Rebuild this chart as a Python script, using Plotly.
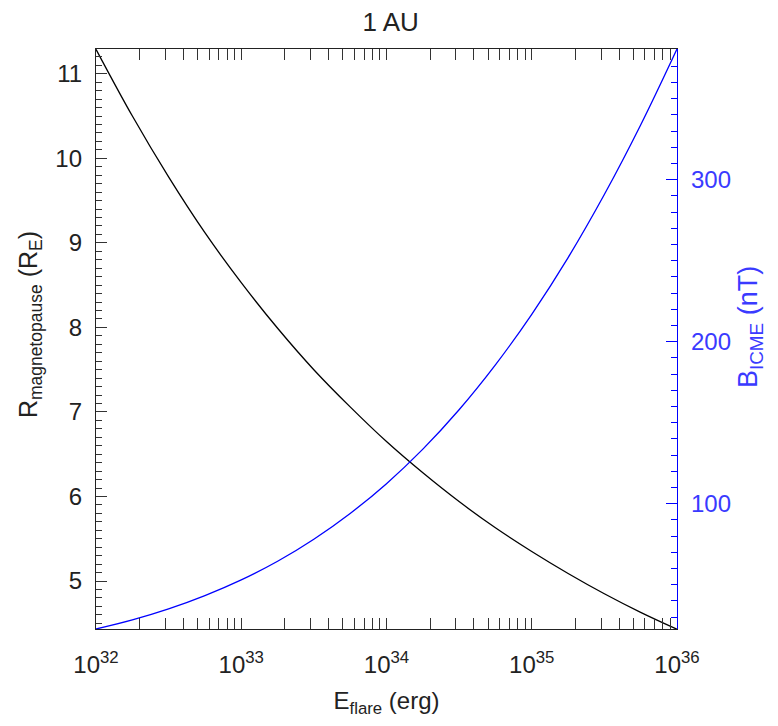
import plotly.graph_objects as go

# ---- data (values estimated along the curves) ----
E_flare = [1.0e32, 1.78e32, 3.16e32, 5.62e32, 1.0e33, 1.78e33, 3.16e33, 5.62e33,
           1.0e34, 1.78e34, 3.16e34, 5.62e34, 1.0e35, 1.78e35, 3.16e35, 5.62e35, 1.0e36]
R_mp = [11.29, 10.50, 9.78, 9.12, 8.53, 7.99, 7.50, 7.06, 6.65, 6.28, 5.94, 5.63,
        5.35, 5.09, 4.85, 4.63, 4.43]
B_icme = [22.7, 28.3, 35.1, 43.3, 53.0, 64.5, 78.1, 94.0, 112.4, 133.7, 158.0, 185.7,
          216.9, 251.9, 290.8, 333.7, 380.6]

x_major = [1e32, 1e33, 1e34, 1e35, 1e36]
x_labels = ["10<sup>32</sup>", "10<sup>33</sup>", "10<sup>34</sup>",
            "10<sup>35</sup>", "10<sup>36</sup>"]
x_minor = [k * 10.0 ** e for e in range(32, 36) for k in range(2, 10)]

left_ticks = [5, 6, 7, 8, 9, 10, 11]
right_ticks = [100, 200, 300]

FONT = "Liberation Sans, Arial, Helvetica, sans-serif"
BLUE = "#0000ff"
BLUE_TXT = "#3a3aff"
DARK = "#222222"

fig = go.Figure()
fig.add_trace(go.Scatter(x=E_flare, y=R_mp, mode="lines",
                         line=dict(color="black", width=1.3, shape="spline"),
                         showlegend=False, hoverinfo="skip"))
fig.add_trace(go.Scatter(x=E_flare, y=B_icme, mode="lines", yaxis="y2",
                         line=dict(color=BLUE, width=1.3, shape="spline"),
                         showlegend=False, hoverinfo="skip"))

fig.update_layout(
    width=770, height=718,
    margin=dict(l=88, r=101, t=40.5, b=96.7, autoexpand=False),
    paper_bgcolor="white", plot_bgcolor="white",
    font=dict(family=FONT, color=DARK, size=22),
    title=dict(text="1 AU", x=0.497, xanchor="center", y=0.994, yanchor="top",
               font=dict(size=26, color=DARK)),
    xaxis=dict(
        type="log", range=[32, 36], automargin=False,
        tickmode="array", tickvals=x_major, ticktext=x_labels,
        ticks="inside", ticklen=11, tickwidth=1.2, tickcolor="#333",
        minor=dict(tickmode="array", tickvals=x_minor, ticks="inside", ticklen=6,
                   tickwidth=1.2, tickcolor="#333", showgrid=False),
        showline=True, linecolor="#222", linewidth=1.3, mirror="allticks",
        showgrid=False, zeroline=False,
        tickfont=dict(size=24, color=DARK), ticklabelstandoff=14,
        title=dict(text="E<sub>flare</sub> (erg)", font=dict(size=24, color=DARK)),
    ),
    yaxis=dict(
        range=[4.433, 11.293], automargin=False,
        tickmode="array", tickvals=left_ticks,
        ticks="inside", ticklen=11, tickwidth=1.2, tickcolor="#333",
        minor=dict(dtick=0.1, ticks="inside", ticklen=6, tickwidth=1.2,
                   tickcolor="#333", showgrid=False),
        showline=True, linecolor="#222", linewidth=1.3,
        showgrid=False, zeroline=False,
        tickfont=dict(size=24, color=DARK), ticklabelstandoff=8,
    ),
    yaxis2=dict(
        overlaying="y", side="right", automargin=False,
        range=[22.7, 380.6],
        tickmode="array", tickvals=right_ticks,
        ticks="inside", ticklen=11, tickwidth=1.2, tickcolor=BLUE,
        minor=dict(dtick=10, ticks="inside", ticklen=6, tickwidth=1.2,
                   tickcolor=BLUE, showgrid=False),
        showline=True, linecolor=BLUE, linewidth=1.3,
        showgrid=False, zeroline=False,
        tickfont=dict(size=24, color=BLUE_TXT), ticklabelstandoff=8,
    ),
    annotations=[
        dict(text="R<sub>magnetopause</sub> (R<sub>E</sub>)", textangle=-90,
             xref="paper", yref="paper", x=-0.1136, y=0.5257,
             xanchor="center", yanchor="middle", showarrow=False,
             font=dict(size=25, color=DARK)),
        dict(text="B<sub>ICME</sub> (nT)", textangle=-90,
             xref="paper", yref="paper", x=1.1256, y=0.5205,
             xanchor="center", yanchor="middle", showarrow=False,
             font=dict(size=27, color=BLUE_TXT)),
    ],
)

fig.write_html("out.html")
